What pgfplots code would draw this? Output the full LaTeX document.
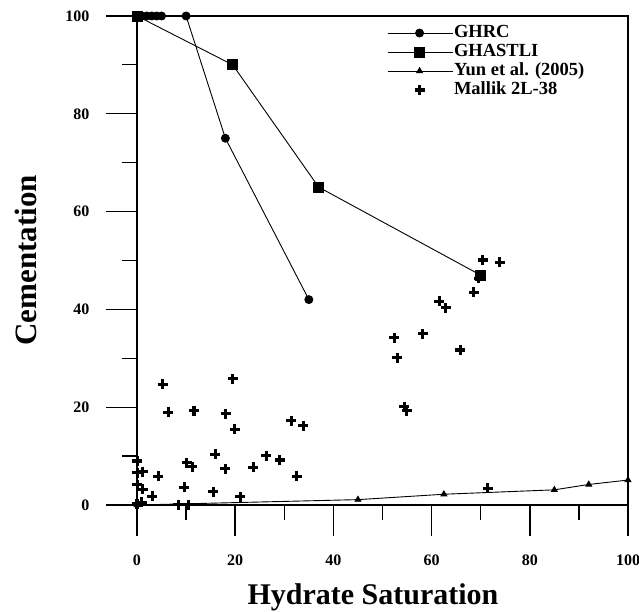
\documentclass[border=0pt]{standalone}
\usepackage{fontspec}
\setmainfont{Liberation Serif}
\usepackage{pgfplots}
\pgfplotsset{compat=1.18}
\pgfplotsset{
  markonlylegend/.style={legend image code/.code={\draw[##1] plot coordinates {(32pt,0pt)};}},
}
\begin{document}
\begin{tikzpicture}
\path[use as bounding box] (-137pt,-107pt) rectangle (502pt,505pt);
\begin{axis}[
  scale only axis,
  width=491pt, height=489pt,
  xmin=0, xmax=100, ymin=0, ymax=100,
  xtick={0,20,40,60,80,100}, ytick={0,20,40,60,80,100},
  minor xtick={10,30,50,70,90}, minor ytick={10,30,50,70,90},
  tick align=outside,
  tick pos=left,
  major tick length=31pt, minor tick length=15pt,
  xtick style={black, line width=1.5pt},
  ytick style={black, line width=1.2pt},
  axis line style={line width=2.7pt},
  clip=false,
  /pgf/number format/assume math mode=true,
  tick label style={font=\fontsize{16}{16}\selectfont\bfseries},
  xticklabel style={anchor=base, yshift=-30pt},
  yticklabel style={anchor=east, xshift=-13pt},
  xlabel={Hydrate Saturation},
  ylabel={Cementation},
  every axis x label/.style={at={(axis description cs:0.4807,-0.2045)}, anchor=base, font=\fontsize{30}{30}\selectfont\bfseries},
  every axis y label/.style={at={(axis description cs:-0.2037,0.5)}, anchor=base, rotate=90, font=\fontsize{31}{31}\selectfont\bfseries},
  legend style={draw=none, fill=none, at={(axis description cs:0.509,0.985)}, anchor=north west,
    font=\fontsize{18.5}{18.5}\selectfont\bfseries, row sep=0pt, inner sep=0pt,
    nodes={inner sep=1pt, text height=13pt, text depth=4pt, anchor=west, font=\fontsize{18.5}{18.5}\selectfont\bfseries}},
  legend cell align=left,
  legend image code/.code={\draw[mark repeat=2,mark phase=2,#1] plot coordinates {(0pt,0pt) (32pt,0pt) (65pt,0pt)};},
]
\addplot[black, line width=0.9pt, mark=*, mark size=4pt] coordinates {
(0,100) (1,100) (2,100) (3,100) (4,100) (5,100) (10,100) (18,75) (35,42)};
\addlegendentry{GHRC}
\addplot[black, line width=0.9pt, mark=square*, mark size=5pt] coordinates {
(0,100) (19.5,90) (37,65) (70,47)};
\addlegendentry{GHASTLI}
\addplot[black, line width=0.9pt, mark=triangle*, mark size=3.3pt] coordinates {
(0,0) (45,1.1) (62.5,2.2) (85,3.1) (92,4.2) (100,5.1)};
\addlegendentry{Yun et al. (2005)}
\addplot[black, only marks, mark=+, mark size=5pt, mark options={line width=3.1pt}, markonlylegend] coordinates {
(0.1,9.0) (0.1,6.6) (1.2,6.8) (0.1,4.1) (1.2,3.2) (3.1,1.8) (0,0.2) (1,0.6)
(4.3,5.9) (5.2,24.7) (6.4,19.0) (8.4,0.1) (9.6,3.6) (10.1,8.6) (10.4,0.1)
(11.3,7.8) (11.6,19.3) (15.5,2.7) (15.9,10.4) (18.0,7.4) (18.1,18.7)
(19.5,25.8) (19.9,15.5) (21.0,1.7) (23.7,7.7) (26.3,10.1) (29.1,9.2)
(31.4,17.2) (32.5,5.9) (33.9,16.2) (52.4,34.2) (53.0,30.1) (54.4,20.1)
(54.9,19.3) (58.2,35.0) (61.6,41.7) (62.9,40.3) (65.8,31.7) (68.6,43.5)
(69.6,46.4) (70.4,50.1) (71.4,3.4) (73.9,49.6)};
\addlegendentry{Mallik 2L-38}
\end{axis}
\end{tikzpicture}
\end{document}
